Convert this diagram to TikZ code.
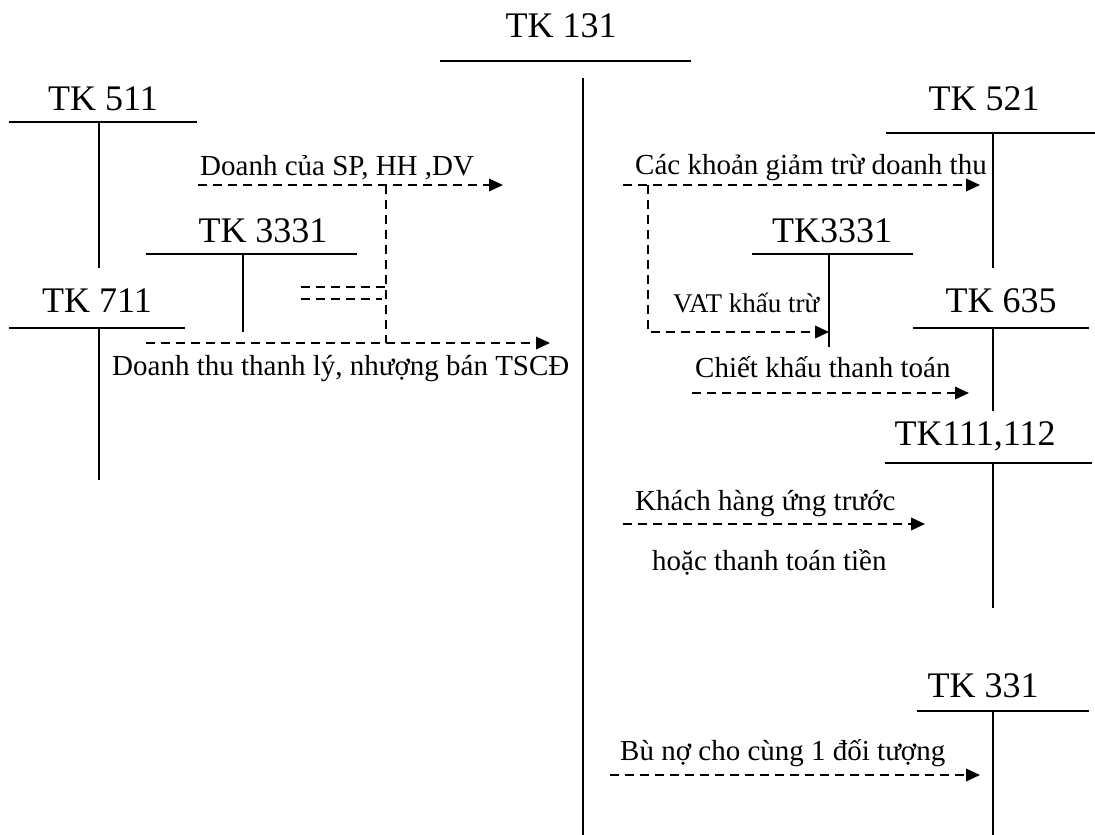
\documentclass[tikz,border=0pt]{standalone}
\usepackage{fontspec}
\setmainfont{Liberation Serif}
\usetikzlibrary{arrows.meta}
\begin{document}
\begin{tikzpicture}[x=1pt,y=-1pt,
  acc/.style={font=\fontsize{36}{40}\selectfont, inner sep=0pt, anchor=base},
  lbl/.style={font=\fontsize{29}{32}\selectfont, inner sep=0pt, anchor=base west},
  small/.style={font=\fontsize{27}{30}\selectfont, inner sep=0pt, anchor=base west},
  tline/.style={line width=1.9pt},
  dline/.style={line width=1.9pt, dash pattern=on 9pt off 6pt},
  flow/.style={dline, -{Triangle[length=14pt,width=12.5pt]}}]
\useasboundingbox (0,0) rectangle (1095,835);

% ---------- account titles ----------
\node[acc] (t131) at (561,37) {TK 131};
\node[acc] (t511) at (103,110) {TK 511};
\node[acc] (t3331l) at (263,242) {TK 3331};
\node[acc] (t711) at (97,312) {TK 711};
\node[acc] (t521) at (984,110) {TK 521};
\node[acc] (t3331r) at (832,242) {TK3331};
\node[acc] (t635) at (1001,312) {TK 635};
\node[acc] (t111) at (975,445) {TK111,112};
\node[acc] (t331) at (983,697) {TK 331};

% ---------- T-account line ends ----------
\coordinate (a131l) at (440,61);  \coordinate (a131r) at (691,61);
\coordinate (a131t) at (583,78);  \coordinate (a131b) at (583,835);
\coordinate (a511l) at (9,122);   \coordinate (a511r) at (197,122);
\coordinate (a511t) at (99,122);  \coordinate (a511b) at (99,268);
\coordinate (a3lL) at (146,254);  \coordinate (a3lR) at (357,254);
\coordinate (a3lT) at (243,254);  \coordinate (a3lB) at (243,332);
\coordinate (a711l) at (9,328);   \coordinate (a711r) at (185,328);
\coordinate (a711t) at (99,328);  \coordinate (a711b) at (99,480);
\coordinate (a521l) at (886,133); \coordinate (a521r) at (1095,133);
\coordinate (a521t) at (993,133); \coordinate (a521b) at (993,268);
\coordinate (a3rL) at (752,254);  \coordinate (a3rR) at (913,254);
\coordinate (a3rT) at (829,254);  \coordinate (a3rB) at (829,347);
\coordinate (a635l) at (913,328); \coordinate (a635r) at (1089,328);
\coordinate (a635t) at (993,328); \coordinate (a635b) at (993,411);
\coordinate (a111l) at (885,463); \coordinate (a111r) at (1092,463);
\coordinate (a111t) at (993,463); \coordinate (a111b) at (993,608);
\coordinate (a331l) at (917,711); \coordinate (a331r) at (1089,711);
\coordinate (a331t) at (993,711); \coordinate (a331b) at (993,835);

\draw[tline] (a131l) -- (a131r);  \draw[tline] (a131t) -- (a131b);
\draw[tline] (a511l) -- (a511r);  \draw[tline] (a511t) -- (a511b);
\draw[tline] (a3lL) -- (a3lR);    \draw[tline] (a3lT) -- (a3lB);
\draw[tline] (a711l) -- (a711r);  \draw[tline] (a711t) -- (a711b);
\draw[tline] (a521l) -- (a521r);  \draw[tline] (a521t) -- (a521b);
\draw[tline] (a3rL) -- (a3rR);    \draw[tline] (a3rT) -- (a3rB);
\draw[tline] (a635l) -- (a635r);  \draw[tline] (a635t) -- (a635b);
\draw[tline] (a111l) -- (a111r);  \draw[tline] (a111t) -- (a111b);
\draw[tline] (a331l) -- (a331r);  \draw[tline] (a331t) -- (a331b);

% ---------- labels ----------
\node[lbl] (l1) at (200,175) {Doanh của SP, HH ,DV};
\node[lbl] (l2) at (112,375) {Doanh thu thanh lý, nhượng bán TSCĐ};
\node[lbl] (l3) at (635,174) {Các khoản giảm trừ doanh thu};
\node[small] (l4) at (673,312) {VAT khấu trừ};
\node[lbl] (l5) at (695,377) {Chiết khấu thanh toán};
\node[lbl] (l6) at (635,510) {Khách hàng ứng trước};
\node[lbl] (l7) at (652,570) {hoặc thanh toán tiền};
\node[lbl] (l8) at (620,760) {Bù nợ cho cùng 1 đối tượng};

% ---------- left flows ----------
\coordinate (f1s) at (198,185); \coordinate (f1e) at (503,185);
\coordinate (f2s) at (146,343); \coordinate (f2e) at (550,343);
\coordinate (vtop) at (386,185); \coordinate (vbot) at (386,343);
\coordinate (s1s) at (301,287); \coordinate (s1e) at (386,287);
\coordinate (s2s) at (301,299); \coordinate (s2e) at (382,299);
\draw[flow] (f1s) -- (f1e);
\draw[flow] (f2s) -- (f2e);
\draw[dline] (vtop) -- (vbot);
\draw[dline] (s1s) -- (s1e);
\draw[dline] (s2s) -- (s2e);

% ---------- right flows ----------
\coordinate (r1s) at (623,185); \coordinate (r1e) at (980,185);
\coordinate (vs) at (648,185);  \coordinate (ve) at (829,332);
\coordinate (r3s) at (692,393); \coordinate (r3e) at (969,393);
\coordinate (r4s) at (623,524); \coordinate (r4e) at (925,524);
\coordinate (r5s) at (610,775); \coordinate (r5e) at (980,775);
\draw[flow] (r1s) -- (r1e);
\draw[flow] (vs) |- (ve);
\draw[flow] (r3s) -- (r3e);
\draw[flow] (r4s) -- (r4e);
\draw[flow] (r5s) -- (r5e);
\end{tikzpicture}
\end{document}
